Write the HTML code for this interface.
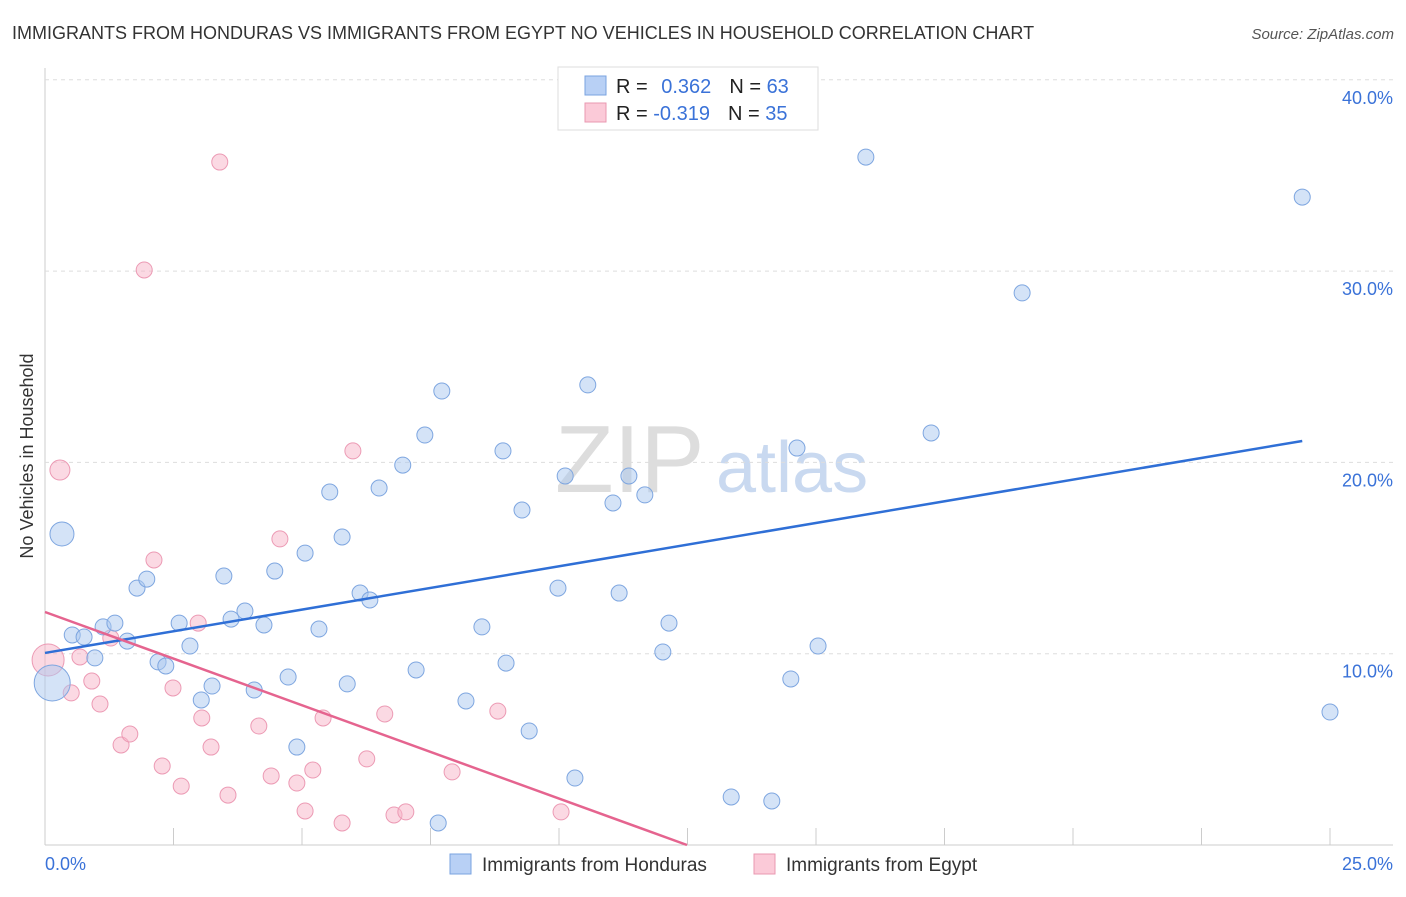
<!DOCTYPE html>
<html><head><meta charset="utf-8"><style>
body{margin:0;background:#fff;font-family:"Liberation Sans",sans-serif;}
svg text{font-family:"Liberation Sans",sans-serif;}
</style></head><body>
<svg id="c" width="1406" height="892">
<text x="12" y="39" font-size="18" fill="#333">IMMIGRANTS FROM HONDURAS VS IMMIGRANTS FROM EGYPT NO VEHICLES IN HOUSEHOLD CORRELATION CHART</text>
<text x="1394" y="39" font-size="15" fill="#555" text-anchor="end" font-style="italic">Source: ZipAtlas.com</text>
<text x="33" y="456" font-size="18" fill="#333" text-anchor="middle" transform="rotate(-90 33 456)">No Vehicles in Household</text>
<text x="555" y="492" font-size="96" fill="#ddd" font-family="Liberation Serif">ZIP</text>
<text x="716" y="492" font-size="72" fill="#c9d9f0">atlas</text>
<g id="grid"></g><g id="pts"></g><g id="lines"></g>
<g>
<rect x="558" y="67" width="260" height="63" fill="#fff" stroke="#ddd"/>
<rect x="585" y="76" width="21" height="19" fill="#b8d0f5" stroke="#7aa3e0"/>
<rect x="585" y="103" width="21" height="19" fill="#fbcad8" stroke="#e998b1"/>
<text x="616" y="93" font-size="20" fill="#222">R = <tspan fill="#3a72d8" dx="8">0.362</tspan><tspan fill="#222" dx="18">N = </tspan><tspan fill="#3a72d8">63</tspan></text>
<text x="616" y="120" font-size="20" fill="#222">R = <tspan fill="#3a72d8">-0.319</tspan><tspan fill="#222" dx="18">N = </tspan><tspan fill="#3a72d8">35</tspan></text>
</g>
<g>
<rect x="450" y="854" width="21" height="20" fill="#b8d0f5" stroke="#7aa3e0"/>
<text x="482" y="871" font-size="19" fill="#333">Immigrants from Honduras</text>
<rect x="754" y="854" width="21" height="20" fill="#fbcad8" stroke="#e998b1"/>
<text x="786" y="871" font-size="19" fill="#333">Immigrants from Egypt</text>
</g>
<text x="45" y="870" font-size="18" fill="#3a72d8">0.0%</text>
<text x="1393" y="870" font-size="18" fill="#3a72d8" text-anchor="end">25.0%</text>
</svg>
<script>
const yTicks=[10,20,30,40];
const yTickLabels=["10.0%","20.0%","30.0%","40.0%"];
const hondurasX=[0.14,0.33,0.53,0.76,0.97,1.13,1.36,1.60,1.79,1.98,2.20,2.35,2.61,2.82,3.04,3.25,3.48,3.62,3.89,4.07,4.26,4.47,4.73,4.90,5.06,5.33,5.54,5.78,5.88,6.13,6.32,6.50,6.96,7.22,7.39,7.65,7.72,8.19,8.50,8.91,8.97,9.28,9.42,9.98,10.12,10.31,10.56,11.05,11.17,11.36,11.67,12.02,12.14,13.35,14.14,14.51,14.63,15.04,15.97,17.24,19.01,24.46,25.00];
const hondurasY=[8.47,16.26,10.98,10.87,9.78,11.40,11.60,10.66,13.43,13.90,9.57,9.36,11.60,10.40,7.58,8.31,14.06,11.81,12.23,8.10,11.50,14.32,8.78,5.12,15.26,11.29,18.45,16.10,8.42,13.17,12.81,18.66,19.86,9.15,21.43,1.15,23.73,7.53,11.40,20.60,9.51,17.51,5.96,13.43,19.29,3.50,24.05,17.88,13.17,19.29,18.30,10.09,11.60,2.51,2.30,8.68,20.75,10.40,35.96,21.54,28.86,33.87,6.95];
const egyptX=[0.06,0.29,0.51,0.68,0.91,1.07,1.28,1.48,1.65,1.93,2.12,2.28,2.49,2.65,2.98,3.05,3.23,3.40,3.56,4.16,4.40,4.57,4.90,5.06,5.21,5.41,5.78,5.99,6.26,6.61,6.79,7.02,7.92,8.81,10.04];
const egyptY=[9.67,19.60,7.95,9.83,8.57,7.37,10.82,5.23,5.80,30.06,14.90,4.13,8.21,3.08,11.60,6.64,5.12,35.70,2.61,6.22,3.61,16.00,3.24,1.78,3.92,6.64,1.15,20.60,4.50,6.85,1.57,1.73,3.82,7.00,1.73];
const hondurasTrend=[[0,10.04],[24.46,21.12]];
const egyptTrend=[[0,12.18],[12.49,0]];
const X=v=>45+v*51.4, Y=v=>845-v*19.13;
const NS="http://www.w3.org/2000/svg";
function mk(t,a,p){const e=document.createElementNS(NS,t);for(const k in a)e.setAttribute(k,a[k]);p.appendChild(e);return e;}
const grid=document.getElementById('grid');
let ax=mk('line',{x1:45,y1:68,x2:45,y2:845,stroke:'#ccc'},grid);


let bx=mk('line',{x1:45,y1:845,x2:1393,y2:845,stroke:'#ccc'},grid);


for(let i=1;i<=10;i++){const t=mk('line',{x1:X(i*2.5),y1:828,x2:X(i*2.5),y2:845,stroke:'#ccc'},grid);

}
yTicks.forEach((v,i)=>{const g=mk('line',{x1:45,y1:Y(v),x2:1393,y2:Y(v),stroke:'#ddd','stroke-dasharray':'4,4'},grid);


const t=mk('text',{x:1393,y:Y(v)+24,'font-size':18,fill:'#3a72d8','text-anchor':'end'},grid);t.textContent=yTickLabels[i];

});
const pts=document.getElementById('pts');
function big(i,arrX){return i===0?(arrX===hondurasX?18:16):(arrX===hondurasX&&i===1?12:(arrX===egyptX&&i===1?10:8));}
egyptX.forEach((x,i)=>{const c=mk('circle',{cx:X(x),cy:Y(egyptY[i]),r:big(i,egyptX),fill:'rgba(248,180,200,0.5)',stroke:'#ec9ab4','stroke-width':1},pts);

});
hondurasX.forEach((x,i)=>{const c=mk('circle',{cx:X(x),cy:Y(hondurasY[i]),r:big(i,hondurasX),fill:'rgba(170,199,240,0.5)',stroke:'#7ea6e0','stroke-width':1},pts);

});
const L=document.getElementById('lines');
let l1=mk('line',{x1:X(hondurasTrend[0][0]),y1:Y(hondurasTrend[0][1]),x2:X(hondurasTrend[1][0]),y2:Y(hondurasTrend[1][1]),stroke:'#2f6fd6','stroke-width':2.5},L);


let l2=mk('line',{x1:X(egyptTrend[0][0]),y1:Y(egyptTrend[0][1]),x2:X(egyptTrend[1][0]),y2:Y(egyptTrend[1][1]),stroke:'#e5648f','stroke-width':2.5},L);


</script>
</body></html>
